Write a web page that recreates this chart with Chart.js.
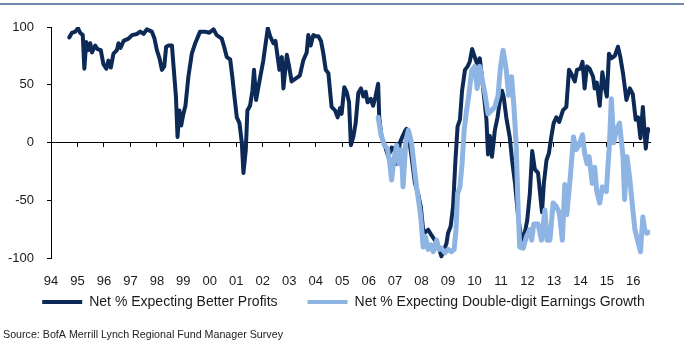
<!DOCTYPE html>
<html><head><meta charset="utf-8">
<script src="https://cdn.jsdelivr.net/npm/chart.js@4.4.1/dist/chart.umd.min.js"></script>
<style>html,body{margin:0;padding:0;background:#fff;}canvas{display:block;}</style>
</head><body>
<canvas id="c" width="687" height="358"></canvas>
<script>
const tickLabels = ['94','95','96','97','98','99','00','01','02','03','04','05','06','07','08','09','10','11','12','13','14','15','16'];
const seriesNames = ['Net % Expecting Better Profits', 'Net % Expecting Double-digit Earnings Growth'];
const sourceText = 'Source: BofA Merrill Lynch Regional Fund Manager Survey';

const profitDates = [1994.69,1994.79,1994.92,1995.02,1995.10,1995.20,1995.26,1995.33,1995.40,1995.48,1995.55,1995.67,1995.76,1995.88,1995.98,1996.09,1996.17,1996.26,1996.36,1996.49,1996.55,1996.63,1996.74,1996.93,1997.06,1997.25,1997.37,1997.50,1997.62,1997.81,1997.91,1998.00,1998.10,1998.19,1998.28,1998.35,1998.44,1998.57,1998.63,1998.72,1998.78,1998.85,1998.92,1999.00,1999.08,1999.19,1999.32,1999.45,1999.63,1999.82,1999.98,2000.14,2000.26,2000.45,2000.54,2000.64,2000.77,2000.85,2000.93,2001.02,2001.12,2001.21,2001.27,2001.36,2001.42,2001.52,2001.61,2001.67,2001.75,2001.85,2002.02,2002.19,2002.28,2002.40,2002.48,2002.63,2002.72,2002.78,2002.91,2002.98,2003.09,2003.28,2003.40,2003.53,2003.66,2003.72,2003.81,2003.91,2004.00,2004.10,2004.20,2004.29,2004.38,2004.48,2004.60,2004.73,2004.83,2004.92,2004.98,2005.08,2005.17,2005.26,2005.33,2005.42,2005.51,2005.61,2005.71,2005.80,2005.89,2005.96,2006.08,2006.17,2006.26,2006.36,2006.40,2006.49,2006.61,2006.74,2006.87,2006.96,2007.06,2007.18,2007.27,2007.37,2007.43,2007.52,2007.62,2007.75,2007.87,2007.97,2008.06,2008.15,2008.25,2008.38,2008.50,2008.62,2008.75,2008.85,2008.94,2009.00,2009.10,2009.19,2009.28,2009.36,2009.45,2009.53,2009.64,2009.74,2009.82,2009.91,2010.01,2010.10,2010.20,2010.26,2010.36,2010.45,2010.51,2010.58,2010.66,2010.77,2010.87,2010.95,2011.04,2011.10,2011.20,2011.33,2011.42,2011.53,2011.65,2011.78,2011.88,2011.99,2012.09,2012.18,2012.28,2012.40,2012.55,2012.62,2012.72,2012.81,2012.90,2012.99,2013.09,2013.20,2013.34,2013.47,2013.57,2013.65,2013.79,2013.87,2014.00,2014.08,2014.16,2014.25,2014.35,2014.48,2014.54,2014.62,2014.73,2014.83,2014.92,2015.00,2015.08,2015.17,2015.30,2015.42,2015.51,2015.61,2015.74,2015.87,2015.98,2016.09,2016.18,2016.27,2016.36,2016.47,2016.55,2016.62];
const profitValues = [91,95,96,99,95,93,64,87,80,86,78,84,81,80,68,64,71,65,77,80,86,82,88,90,93,94,96,94,98,96,90,80,73,63,66,83,84,84,66,40,5,28,15,25,32,57,77,86,96,96,95,98,93,90,83,74,72,57,40,22,17,0,-26,-6,28,32,45,63,37,50,71,99,92,86,88,63,74,47,76,68,53,56,58,71,78,93,84,93,92,92,88,77,63,60,31,28,22,30,25,48,44,35,-2,5,17,43,47,40,44,35,38,32,40,51,22,5,-2,-12,-4,-5,-18,0,5,10,12,5,-12,-35,-44,-55,-75,-77,-75,-80,-84,-88,-98,-92,-87,-78,-72,-55,-15,14,20,45,63,66,70,81,74,68,73,61,40,20,-10,6,-12,11,22,35,45,40,22,5,-15,-35,-64,-84,-80,-67,-44,-7,-23,-26,-60,-35,-15,-9,5,17,22,18,28,31,63,60,53,63,64,70,47,66,64,57,47,52,32,61,48,40,77,73,75,83,74,60,37,47,42,20,22,4,31,-5,12,11];

const growthDates = [2006.36,2006.46,2006.59,2006.71,2006.80,2006.87,2006.95,2007.06,2007.14,2007.24,2007.30,2007.41,2007.50,2007.62,2007.71,2007.81,2007.90,2007.97,2008.06,2008.15,2008.25,2008.35,2008.44,2008.57,2008.65,2008.75,2008.88,2009.00,2009.13,2009.23,2009.30,2009.36,2009.45,2009.53,2009.61,2009.70,2009.78,2009.89,2010.01,2010.10,2010.20,2010.32,2010.39,2010.51,2010.64,2010.77,2010.89,2010.98,2011.08,2011.20,2011.29,2011.40,2011.49,2011.57,2011.65,2011.71,2011.84,2011.96,2012.09,2012.16,2012.24,2012.40,2012.53,2012.66,2012.74,2012.85,2012.97,2013.09,2013.20,2013.32,2013.41,2013.49,2013.62,2013.74,2013.84,2013.95,2014.08,2014.16,2014.25,2014.33,2014.45,2014.54,2014.62,2014.73,2014.83,2014.98,2015.10,2015.17,2015.26,2015.36,2015.48,2015.61,2015.67,2015.76,2015.87,2015.97,2016.06,2016.19,2016.27,2016.36,2016.43,2016.51,2016.62];
const growthValues = [22,8,-2,-5,-18,-32,-15,-2,-18,-6,-38,2,11,0,-18,-38,-52,-64,-90,-81,-92,-88,-94,-84,-92,-91,-95,-92,-94,-92,-75,-44,-38,-18,11,28,40,62,66,47,66,51,43,25,28,31,41,65,80,63,41,57,31,0,-58,-90,-91,-81,-75,-84,-70,-70,-84,-58,-84,-84,-52,-55,-60,-84,-36,-62,-29,5,-6,-2,7,-9,-18,-12,-35,-21,-42,-52,-38,-42,0,38,0,11,17,-12,-49,-12,-32,-55,-75,-87,-94,-64,-75,-78,-77];

const xMin = 1994, xMax = 2016.63;
const toPoints = (xs, ys) => xs.map((x, i) => ({x: x, y: ys[i]}));

const topRule = {
  id: 'topRule',
  beforeDraw(chart) {
    const ctx = chart.ctx;
    ctx.save();
    ctx.strokeStyle = '#6f88ab';
    ctx.lineWidth = 2;
    ctx.beginPath();
    ctx.moveTo(0, 4);
    ctx.lineTo(chart.width - 3, 4);
    ctx.stroke();
    ctx.restore();
  }
};

const font = {family: 'Liberation Sans, Arial, sans-serif', size: 13};

new Chart(document.getElementById('c'), {
  type: 'line',
  data: {
    datasets: [
      {label: seriesNames[0], data: toPoints(profitDates, profitValues), borderColor: '#0c2a55', backgroundColor: '#0c2a55', borderWidth: 4, pointRadius: 0, tension: 0, borderJoinStyle: 'round', borderCapStyle: 'round', order: 1},
      {label: seriesNames[1], data: toPoints(growthDates, growthValues), borderColor: '#8db4e2', backgroundColor: '#8db4e2', borderWidth: 5, pointRadius: 0, tension: 0, borderJoinStyle: 'round', borderCapStyle: 'round', order: 0}
    ]
  },
  options: {
    responsive: false,
    animation: false,
    devicePixelRatio: 1,
    layout: {padding: {left: 3, right: 3, top: 27, bottom: 0}},
    scales: {
      x: {
        type: 'linear', position: 'bottom', min: xMin, max: xMax,
        grid: {display: false, drawTicks: false},
        border: {display: false},
        ticks: {display: false, stepSize: 1, includeBounds: false},
        afterFit: (s) => { s.height = 6.3; }
      },
      x0: {
        type: 'linear', axis: 'x', position: {y: 0}, min: xMin, max: xMax,
        grid: {drawOnChartArea: false, drawTicks: true, tickLength: 4, color: '#000', lineWidth: 1},
        border: {display: true, color: '#000', width: 1},
        ticks: {stepSize: 1, includeBounds: false, autoSkip: false, maxRotation: 0, minRotation: 0, padding: 126.5, color: '#1a1a1a', font: font,
          callback: (v) => tickLabels[Math.round(v) - 1994] ?? ''},
        afterFit: (s) => { s.paddingLeft = 0; s.paddingRight = 0; s.paddingTop = 0; s.paddingBottom = 0; }
      },
      y: {
        type: 'linear', position: 'left', min: -100, max: 100,
        grid: {drawOnChartArea: false, drawTicks: true, tickLength: 4, color: '#000'},
        border: {display: true, color: '#000', width: 1},
        ticks: {stepSize: 50, padding: 13, color: '#1a1a1a', font: font},
        afterFit: (s) => { s.width = 48; }
      },
      yr: {
        type: 'linear', position: 'right', display: true,
        grid: {display: false, drawTicks: false},
        border: {display: false},
        ticks: {display: false},
        afterFit: (s) => { s.width = 34; }
      }
    },
    plugins: {
      legend: {
        position: 'bottom',
        labels: {
          boxWidth: 40, boxHeight: 4, padding: 30, color: '#1a1a1a',
          font: {family: 'Liberation Sans, Arial, sans-serif', size: 14},
          sort: (a, b) => a.datasetIndex - b.datasetIndex,
          generateLabels(chart) {
            const items = Chart.defaults.plugins.legend.labels.generateLabels(chart);
            items.forEach(it => { it.lineWidth = 0; it.fillStyle = it.strokeStyle; });
            return items;
          }
        }
      },
      title: {
        display: true, text: sourceText, position: 'bottom', align: 'start', color: '#222',
        font: {family: 'Liberation Sans, Arial, sans-serif', size: 10.7, weight: 'normal'},
        padding: {top: 9.6, bottom: 16.6}
      },
      tooltip: {enabled: false}
    }
  },
  plugins: [topRule]
});
</script>
</body></html>
